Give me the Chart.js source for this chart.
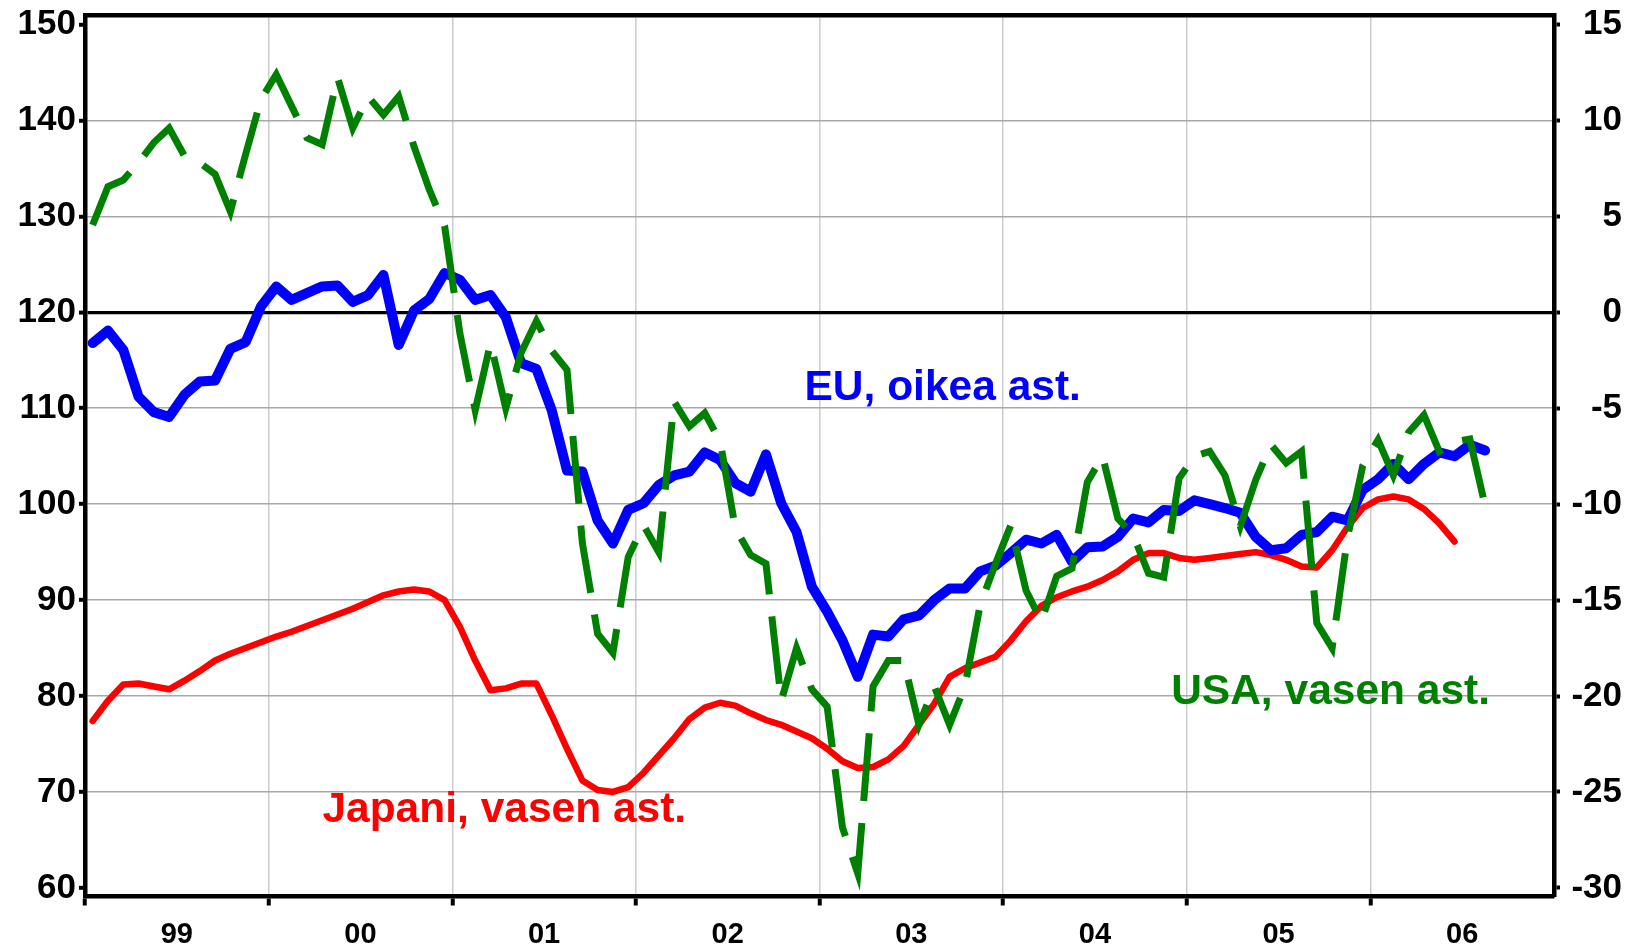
<!DOCTYPE html>
<html>
<head>
<meta charset="utf-8">
<script src="https://cdn.jsdelivr.net/npm/chart.js@4.4.1/dist/chart.umd.min.js"></script>
<style>
  html, body { margin: 0; padding: 0; background: #ffffff; }
  #wrap { width: 1635px; height: 947px; }
</style>
</head>
<body>
<div id="wrap"><canvas id="c" width="1635" height="947"></canvas></div>
<script>
// ---------- data ----------
const yearLabels = ['99', '00', '01', '02', '03', '04', '05', '06'];
const monthCodes = ['01','02','03','04','05','06','07','08','09','10','11','12'];
const monthLabels = yearLabels.flatMap(y => monthCodes.map(m => y + '-' + m));

const leftTicks = [60, 70, 80, 90, 100, 110, 120, 130, 140, 150];
const rightTicks = [-30, -25, -20, -15, -10, -5, 0, 5, 10, 15];

// USA, left axis (Jan 1999 - Aug 2006)
const usa = [
  129.1, 133.1, 133.8, 135.6, 137.7, 139.2, 136.3, 135.6, 134.4, 130.5, 136.5, 142.2,
  144.8, 141.5, 138.2, 137.5, 144.5, 139.2, 142.5, 140.6, 142.5, 137.3, 132.8, 129.0,
  117.8, 109.8, 116.8, 110.0, 115.8, 119.1, 116.0, 114.0, 96.0, 86.5, 84.5, 94.5,
  97.8, 95.0, 110.7, 108.1, 109.5, 106.6, 97.5, 94.7, 93.8, 79.5, 85.0, 80.7,
  78.9, 66.3, 61.5, 81.0, 83.7, 83.7, 77.0, 81.0, 77.0, 81.0, 89.5, 93.8,
  97.8, 91.0, 87.8, 92.5, 93.3, 102.3, 105.0, 98.5, 96.8, 92.8, 92.4, 102.7,
  105.0, 105.5, 103.0, 97.7, 102.5, 106.2, 104.3, 105.5, 87.6, 85.0, 96.5, 104.0,
  106.7, 103.0, 107.5, 109.3, 105.5, 106.5, 106.8, 99.8
];

// Japan, left axis (Jan 1999 - Jun 2006)
const japan = [
  77.4, 79.5, 81.2, 81.3, 81.0, 80.7, 81.6, 82.6, 83.7, 84.4, 85.0, 85.6,
  86.2, 86.7, 87.3, 87.9, 88.5, 89.1, 89.8, 90.5, 90.9, 91.1, 90.9, 90.0,
  87.2, 83.7, 80.6, 80.8, 81.3, 81.3, 78.0, 74.5, 71.2, 70.2, 70.0, 70.5,
  72.0, 73.8, 75.6, 77.6, 78.8, 79.3, 79.0, 78.2, 77.5, 77.0, 76.3, 75.6,
  74.5, 73.2, 72.5, 72.6, 73.4, 74.8, 77.0, 79.2, 82.0, 82.9, 83.5, 84.1,
  85.8, 87.8, 89.4, 90.3, 90.9, 91.4, 92.1, 93.0, 94.2, 94.9, 94.9, 94.4,
  94.2, 94.4, 94.6, 94.8, 95.0, 94.7, 94.2, 93.5, 93.4, 95.2, 97.6, 99.6,
  100.5, 100.8, 100.5, 99.5, 98.0, 96.1
];

// EU, right axis (Jan 1999 - Aug 2006)
const eu = [
  -1.6, -0.95, -1.95, -4.4, -5.2, -5.45, -4.3, -3.6, -3.55, -1.9, -1.55, 0.3,
  1.35, 0.65, 1.0, 1.35, 1.4, 0.55, 0.9, 1.95, -1.7, 0.1, 0.7, 2.05,
  1.7, 0.65, 0.9, -0.25, -2.65, -2.95, -5.1, -8.25, -8.3, -10.85, -12.05, -10.3,
  -9.95, -9.0, -8.5, -8.3, -7.3, -7.7, -8.9, -9.35, -7.4, -9.95, -11.45, -14.3,
  -15.6, -17.1, -19.0, -16.8, -16.9, -16.0, -15.8, -15.0, -14.4, -14.4, -13.5, -13.2,
  -12.55, -11.85, -12.05, -11.6, -13.0, -12.25, -12.2, -11.7, -10.75, -10.95, -10.3, -10.35,
  -9.8, -10.0, -10.2, -10.45, -11.7, -12.4, -12.3, -11.6, -11.45, -10.65, -10.85, -9.25,
  -8.7, -7.9, -8.7, -7.9, -7.3, -7.5, -6.9, -7.2
];

// series labels drawn inside the plot (month position, left-axis value of baseline)
const seriesNotes = [
  { text: 'EU, oikea ast.', color: '#0000ff', month: 56.05, value: 110.9 },
  { text: 'Japani, vasen ast.', color: '#ff0000', month: 27.4, value: 66.9 },
  { text: 'USA, vasen ast.', color: '#008000', month: 81.4, value: 79.2 }
];

// ---------- styling ----------
const FONT = '"Liberation Sans", Arial, Helvetica, sans-serif';

const notesPlugin = {
  id: 'notes',
  afterDatasetsDraw(chart) {
    const ctx = chart.ctx;
    const xs = chart.scales.x, ys = chart.scales.y;
    ctx.save();
    ctx.font = 'bold 42.5px ' + FONT;
    ctx.textAlign = 'center';
    ctx.textBaseline = 'alphabetic';
    seriesNotes.forEach(n => {
      const x = xs.left + (n.month / monthLabels.length) * (xs.right - xs.left);
      const y = ys.getPixelForValue(n.value);
      ctx.fillStyle = n.color;
      ctx.fillText(n.text, x, y);
    });
    ctx.restore();
  }
};

new Chart(document.getElementById('c'), {
  type: 'line',
  data: {
    labels: monthLabels,
    datasets: [
      {
        label: 'USA', data: usa, yAxisID: 'y', order: 0,
        borderColor: '#008000', borderWidth: 7,
        borderDash: [68, 22], borderCapStyle: 'butt', borderJoinStyle: 'miter',
        pointRadius: 0, tension: 0, fill: false
      },
      {
        label: 'EU', data: eu, yAxisID: 'y2', order: 1,
        borderColor: '#0000ff', borderWidth: 10,
        borderCapStyle: 'round', borderJoinStyle: 'round',
        pointRadius: 0, tension: 0, fill: false
      },
      {
        label: 'Japani', data: japan, yAxisID: 'y', order: 2,
        borderColor: '#ff0000', borderWidth: 6.5,
        borderCapStyle: 'round', borderJoinStyle: 'round',
        pointRadius: 0, tension: 0, fill: false
      }
    ]
  },
  options: {
    responsive: false,
    animation: false,
    devicePixelRatio: 1,
    layout: { padding: { top: 15, right: 13, bottom: 0, left: 0 } },
    plugins: { legend: { display: false }, tooltip: { enabled: false } },
    scales: {
      x: {
        type: 'category',
        position: 'bottom',
        offset: true,
        afterFit: s => { s.height = 50.5; },
        border: { display: true, color: '#000', width: 4.5 },
        grid: {
          offset: true,
          drawOnChartArea: true,
          color: c => (c.index !== undefined && c.index % 12 === 0) ? '#cccccc' : 'rgba(0,0,0,0)',
          lineWidth: 1.5,
          tickColor: c => (c.index !== undefined && c.index % 12 === 0) ? '#000000' : 'rgba(0,0,0,0)',
          tickWidth: 4,
          tickLength: 9
        },
        ticks: {
          autoSkip: false,
          maxRotation: 0,
          minRotation: 0,
          labelOffset: -7.65,
          padding: 12,
          color: '#000',
          font: { family: FONT, size: 29, weight: 'bold' },
          callback: (v, i) => (i % 12 === 6) ? yearLabels[Math.floor(i / 12)] : ''
        }
      },
      xTop: {
        type: 'category',
        position: 'top',
        offset: true,
        afterFit: s => { s.height = 0; },
        border: { display: true, color: '#000', width: 4.5 },
        grid: { display: false, drawTicks: false },
        ticks: { display: false }
      },
      y: {
        type: 'linear',
        position: 'left',
        min: 59.1,
        max: 151.0,
        afterFit: s => { s.width = 85; },
        afterBuildTicks: s => { s.ticks = leftTicks.map(v => ({ value: v })); },
        border: { display: true, color: '#000', width: 4.5 },
        grid: {
          color: c => {
            const v = c.tick ? c.tick.value : null;
            if (v === 120) return '#000000';
            if (v === 60 || v === 150) return 'rgba(0,0,0,0)';
            return '#a8a8a8';
          },
          lineWidth: c => (c.tick && c.tick.value === 120) ? 3.2 : 1.6,
          tickColor: '#000',
          tickWidth: 4,
          tickLength: 6
        },
        ticks: {
          padding: 3,
          color: '#000',
          font: { family: FONT, size: 35, weight: 'bold', lineHeight: 0.05 }
        }
      },
      y2: {
        type: 'linear',
        position: 'right',
        min: -30.45,
        max: 15.5,
        afterFit: s => { s.width = 68; },
        afterBuildTicks: s => { s.ticks = rightTicks.map(v => ({ value: v })); },
        border: { display: true, color: '#000', width: 4.5 },
        grid: {
          drawOnChartArea: false,
          tickColor: '#000',
          tickWidth: 4,
          tickLength: 6
        },
        ticks: {
          padding: 6,
          crossAlign: 'far',
          color: '#000',
          font: { family: FONT, size: 35, weight: 'bold', lineHeight: 0.05 }
        }
      }
    }
  },
  plugins: [notesPlugin]
});
</script>
</body>
</html>
